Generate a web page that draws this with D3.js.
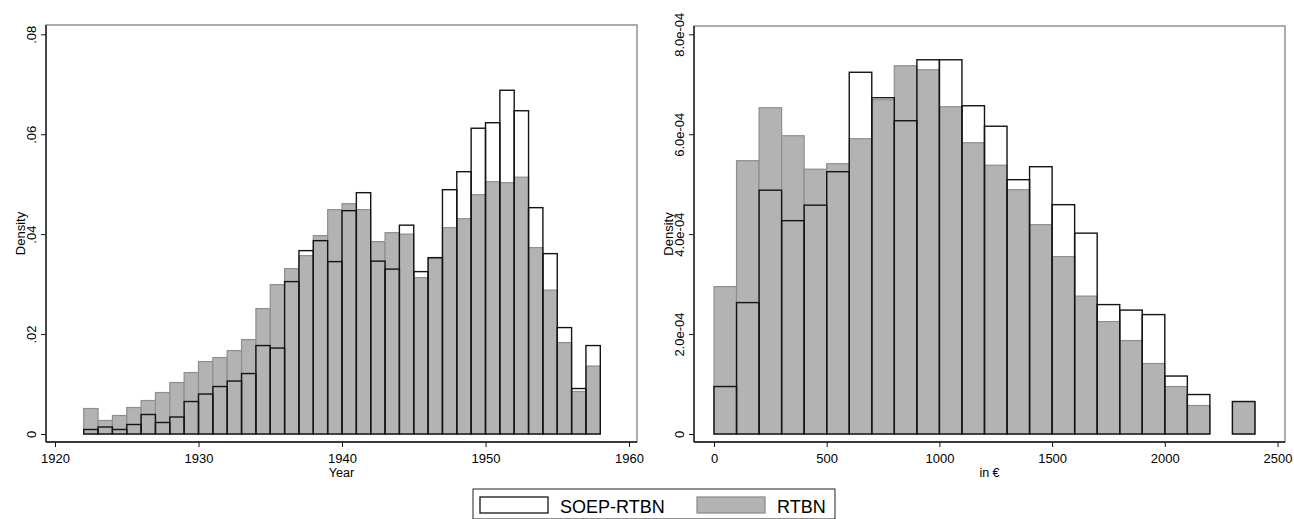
<!DOCTYPE html>
<html>
<head>
<meta charset="utf-8">
<script src="https://cdn.jsdelivr.net/npm/d3@7"></script>
<style>
  body { margin: 0; background: #fff; }
  svg { font-family: "Liberation Sans", Arial, sans-serif; }
</style>
</head>
<body>
<svg id="chart" width="1294" height="519"></svg>
<script>
//--------------------data---------------
// left panel: birth year histogram, 1-year bins from 1922 to 1957
var yearBins = d3.range(1922, 1958);
var yearRTBN = [0.0051, 0.0027, 0.0037, 0.0053, 0.0067, 0.0083, 0.0103, 0.0123, 0.0145, 0.0153,
                0.0167, 0.0189, 0.0251, 0.0299, 0.0331, 0.0357, 0.0397, 0.0449, 0.0461, 0.0449,
                0.0385, 0.0403, 0.0400, 0.0313, 0.0351, 0.0413, 0.0431, 0.0479, 0.0505, 0.0503,
                0.0514, 0.0373, 0.0288, 0.0183, 0.0085, 0.0136];
var yearSOEP = [0.0009, 0.0014, 0.0009, 0.0019, 0.0039, 0.0023, 0.0034, 0.0065, 0.0080, 0.0095,
                0.0106, 0.0121, 0.0177, 0.0172, 0.0305, 0.0367, 0.0387, 0.0345, 0.0447, 0.0483,
                0.0346, 0.0330, 0.0418, 0.0325, 0.0353, 0.0489, 0.0525, 0.0612, 0.0623, 0.0688,
                0.0647, 0.0453, 0.0361, 0.0213, 0.0091, 0.0177];
var yearTicks = [1920, 1930, 1940, 1950, 1960];
var yearYTicks = [0, 0.02, 0.04, 0.06, 0.08];

// right panel: pension in euro, 100-euro bins, density in units of 1e-4
var incBins = d3.range(0, 2400, 100);
var incRTBN = [2.95, 5.47, 6.53, 5.97, 5.30, 5.41, 5.91, 6.69, 7.37, 7.29, 6.55, 5.83,
               5.38, 4.89, 4.19, 3.55, 2.76, 2.25, 1.87, 1.41, 0.95, 0.57, 0, 0.65];
var incSOEP = [0.95, 2.63, 4.88, 4.27, 4.58, 5.25, 7.24, 6.73, 6.27, 7.49, 7.49, 6.57,
               6.16, 5.09, 5.35, 4.59, 4.02, 2.59, 2.48, 2.39, 1.16, 0.79, 0, 0.65];
var incTicks = [0, 500, 1000, 1500, 2000, 2500];
var incYTicks = [0, 2e-4, 4e-4, 6e-4, 8e-4];

var seriesNames = ["SOEP-RTBN", "RTBN"];

var grayFill = "#b3b3b3",
    grayLine = "#8e8e8e",
    darkLine = "#141414";

var svg = d3.select("#chart");

//--------------------one histogram panel---------------
function drawPanel(p) {
  var g = svg.append("g");
  var x = d3.scaleLinear().domain(p.xDomain).range(p.xRange);
  var y = d3.scaleLinear().domain(p.yDomain).range([434, 34.3]);

  // plot region outline
  g.append("rect")
    .attr("x", p.frame[0]).attr("y", p.frame[1])
    .attr("width", p.frame[2] - p.frame[0])
    .attr("height", p.frame[3] - p.frame[1])
    .attr("fill", "none")
    .attr("stroke", "#808080")
    .attr("stroke-width", 1.3);

  var rtbn = p.bins.map(function(b, i) { return {x0: b, x1: b + p.step, v: p.rtbn[i] * p.unit}; })
    .filter(function(d) { return d.v > 0; });
  var soep = p.bins.map(function(b, i) { return {x0: b, x1: b + p.step, v: p.soep[i] * p.unit}; })
    .filter(function(d) { return d.v > 0; });

  // RTBN, filled gray
  g.append("g").selectAll("rect")
    .data(rtbn)
    .enter().append("rect")
    .attr("x", function(d) { return x(d.x0); })
    .attr("y", function(d) { return y(d.v); })
    .attr("width", function(d) { return x(d.x1) - x(d.x0); })
    .attr("height", function(d) { return y(0) - y(d.v); })
    .attr("fill", grayFill)
    .attr("stroke", grayLine)
    .attr("stroke-width", 1.2);

  // SOEP-RTBN, outline only
  g.append("g").selectAll("rect")
    .data(soep)
    .enter().append("rect")
    .attr("x", function(d) { return x(d.x0); })
    .attr("y", function(d) { return y(d.v); })
    .attr("width", function(d) { return x(d.x1) - x(d.x0); })
    .attr("height", function(d) { return y(0) - y(d.v); })
    .attr("fill", "none")
    .attr("stroke", darkLine)
    .attr("stroke-width", 1.4);

  // y axis
  var ya = g.append("g")
    .attr("transform", "translate(" + p.frame[0] + ",0)")
    .call(d3.axisLeft(y).tickValues(p.yTicks).tickSize(5).tickFormat(p.yFormat));
  ya.select(".domain").remove();
  ya.selectAll("line").attr("stroke", darkLine);
  ya.selectAll("text")
    .attr("transform", "rotate(-90)")
    .attr("x", 0).attr("y", -10).attr("dy", 0)
    .style("text-anchor", "middle")
    .attr("fill", "#000")
    .style("font-size", "13px");
  g.append("line")
    .attr("x1", p.frame[0]).attr("x2", p.frame[0])
    .attr("y1", p.frame[1]).attr("y2", p.frame[3])
    .attr("stroke", darkLine).attr("stroke-width", 1.3);

  // x axis
  var xa = g.append("g")
    .attr("transform", "translate(0," + p.frame[3] + ")")
    .call(d3.axisBottom(x).tickValues(p.xTicks).tickSize(5).tickFormat(d3.format("d")));
  xa.select(".domain").remove();
  xa.selectAll("line").attr("stroke", darkLine);
  xa.selectAll("text")
    .attr("y", 20.5).attr("dy", 0)
    .attr("fill", "#000")
    .style("font-size", "13px");
  g.append("line")
    .attr("x1", p.frame[0]).attr("x2", p.frame[2])
    .attr("y1", p.frame[3]).attr("y2", p.frame[3])
    .attr("stroke", darkLine).attr("stroke-width", 1.3);

  // axis titles
  g.append("text")
    .attr("transform", "translate(" + (p.frame[0] - 21) + "," + ((p.frame[1] + p.frame[3]) / 2) + ") rotate(-90)")
    .style("text-anchor", "middle")
    .style("font-size", "13px")
    .text("Density");
  g.append("text")
    .attr("x", (p.frame[0] + p.frame[2]) / 2)
    .attr("y", 477)
    .style("text-anchor", "middle")
    .style("font-size", "12.5px")
    .text(p.xTitle);
}

drawPanel({
  frame: [46, 25, 637, 442],
  xDomain: [1920, 1960], xRange: [55, 629],
  yDomain: [0, 0.08],
  bins: yearBins, step: 1, unit: 1,
  rtbn: yearRTBN, soep: yearSOEP,
  xTicks: yearTicks, yTicks: yearYTicks,
  yFormat: function(d) { return d === 0 ? "0" : d3.format(".2f")(d).replace(/^0/, ""); },
  xTitle: "Year"
});

drawPanel({
  frame: [694, 26, 1285, 442],
  xDomain: [0, 2500], xRange: [714, 1277.5],
  yDomain: [0, 8e-4],
  bins: incBins, step: 100, unit: 1e-4,
  rtbn: incRTBN, soep: incSOEP,
  xTicks: incTicks, yTicks: incYTicks,
  yFormat: function(d) {
    if (d === 0) return "0";
    var s = d.toExponential(1).split("e");
    var ex = +s[1];
    return s[0] + "e" + (ex < 0 ? "-" : "+") + d3.format("02d")(Math.abs(ex));
  },
  xTitle: "in €"
});

//--------------------legend---------------
var legend = svg.append("g");
legend.append("rect")
  .attr("x", 473).attr("y", 489)
  .attr("width", 362).attr("height", 30)
  .attr("fill", "#fff")
  .attr("stroke", "#222")
  .attr("stroke-width", 1);

var keyX = [480, 697];
legend.selectAll(".key")
  .data(seriesNames)
  .enter().append("rect")
  .attr("class", "key")
  .attr("x", function(d, i) { return keyX[i]; })
  .attr("y", 497)
  .attr("width", 68).attr("height", 16)
  .attr("fill", function(d, i) { return i === 0 ? "#fff" : grayFill; })
  .attr("stroke", function(d, i) { return i === 0 ? darkLine : grayLine; })
  .attr("stroke-width", 1.3);

legend.selectAll(".lab")
  .data(seriesNames)
  .enter().append("text")
  .attr("class", "lab")
  .attr("x", function(d, i) { return keyX[i] + 80; })
  .attr("y", 513)
  .style("font-size", "18px")
  .text(function(d) { return d; });
</script>
</body>
</html>
